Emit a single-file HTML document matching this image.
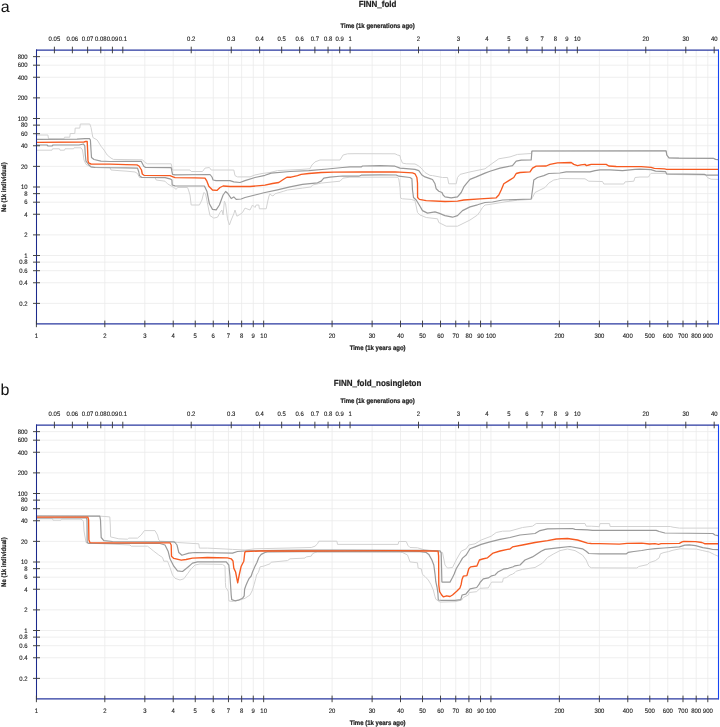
<!DOCTYPE html>
<html><head><meta charset="utf-8"><style>
html,body{margin:0;padding:0;background:#fff;}
svg{display:block;will-change:transform;}
text{text-rendering:geometricPrecision;font-family:"Liberation Sans",sans-serif;fill:#222;}
.lab text{font-size:6.4px;fill:#1a1a1a;stroke:#1a1a1a;stroke-width:0.12px;}
.ttl{font-size:8.0px;font-weight:bold;stroke:#222;stroke-width:0.2px;}
.ax{font-size:6.0px;font-weight:bold;stroke:#222;stroke-width:0.2px;}
.pl{font-size:16px;fill:#111;}
</style></head><body>
<svg width="720" height="727" viewBox="0 0 720 727">
<text class="pl" x="0.7" y="11.7">a</text>
<text class="pl" x="0.5" y="394.7">b</text>
<g transform="translate(0,0)">
<path d="M104.82 50V324 M144.84 50V324 M173.23 50V324 M195.25 50V324 M213.25 50V324 M228.47 50V324 M241.65 50V324 M253.27 50V324 M263.67 50V324 M332.09 50V324 M372.11 50V324 M400.50 50V324 M422.52 50V324 M440.52 50V324 M455.74 50V324 M468.92 50V324 M480.54 50V324 M490.94 50V324 M559.36 50V324 M599.38 50V324 M627.77 50V324 M649.79 50V324 M667.79 50V324 M683.01 50V324 M696.19 50V324 M707.81 50V324 M37 56.64H718 M37 65.20H718 M37 77.26H718 M37 97.88H718 M37 118.50H718 M37 125.14H718 M37 133.70H718 M37 145.76H718 M37 166.38H718 M37 187.00H718 M37 193.64H718 M37 202.20H718 M37 214.26H718 M37 234.88H718 M37 255.50H718 M37 262.14H718 M37 270.70H718 M37 282.76H718 M37 303.38H718" stroke="#ebebeb" stroke-width="0.8" fill="none"/>
<path d="M37.0 135.0 47.9 135.0 48.5 138.8 64.0 138.8 64.5 137.2 69.8 137.2 70.2 133.5 74.8 133.5 75.2 128.1 79.8 128.1 80.3 124.0 89.8 124.0 91.0 127.5 92.9 137.5 97.2 140.0 101.0 146.2 104.0 150.0 107.2 155.0 111.0 158.1 113.5 159.4 126.0 159.6 142.5 159.8 145.0 162.5 147.5 163.8 171.2 163.8 172.5 170.0 190.0 170.0 191.2 171.5 202.5 171.5 205.0 168.1 209.4 167.5 211.2 170.0 233.8 170.0 235.0 175.6 237.5 176.9 250.0 176.9 255.0 175.0 262.0 173.5 270.0 172.5 277.5 170.6 300.0 169.5 310.0 168.8 311.9 165.0 315.0 161.9 320.0 160.0 340.0 160.0 343.1 155.0 347.5 153.8 355.0 153.7 395.0 153.8 397.5 155.0 400.0 155.6 400.6 158.8 402.5 163.1 406.2 163.8 415.0 164.0 418.1 165.6 421.2 168.1 423.8 171.2 425.0 172.5 430.0 175.4 432.5 175.6 442.5 177.5 447.5 177.5 448.8 183.8 456.2 183.8 457.5 177.5 460.0 174.4 470.0 171.9 485.0 168.8 490.0 165.0 498.8 158.8 510.0 156.9 517.5 154.4 531.2 153.5 531.9 151.0 666.1 150.9 666.8 155.0 668.9 157.8 678.9 158.1 713.3 158.3 715.6 159.4 718.0 159.6" stroke="#d2d2d2" stroke-width="1.0" fill="none" stroke-linejoin="round"/>
<path d="M37.0 150.2 52.0 150.2 52.5 148.8 59.5 148.8 60.0 150.2 64.5 150.2 65.0 148.8 73.5 148.8 74.0 147.8 81.0 147.8 82.5 150.0 84.0 160.0 86.0 164.4 91.0 167.0 100.0 167.5 110.0 167.6 111.0 170.0 121.0 170.8 126.0 171.1 135.0 172.0 137.5 173.5 139.5 177.5 155.0 177.5 156.2 180.0 165.0 181.2 167.5 183.8 173.8 187.5 176.2 189.4 177.5 187.5 187.5 187.5 188.5 190.0 190.0 195.0 191.2 205.0 199.4 205.0 201.9 200.0 203.8 192.5 205.6 193.8 208.8 210.0 210.0 215.6 213.8 218.1 217.5 217.2 220.0 212.5 221.9 210.0 223.1 215.0 224.4 201.2 225.6 203.8 227.5 218.8 229.4 225.0 231.2 220.0 233.8 213.8 235.0 210.0 236.9 216.2 240.0 214.4 242.5 212.5 245.0 208.1 250.0 210.0 252.5 205.0 255.0 207.5 256.2 205.0 258.8 205.0 259.4 208.8 266.2 208.8 268.0 200.0 269.0 196.0 270.0 193.8 271.0 195.0 273.0 196.0 275.0 193.8 283.8 191.2 287.5 190.0 302.5 188.1 311.2 186.9 312.5 185.0 321.2 183.1 330.0 182.2 340.0 181.2 343.1 178.1 350.0 177.2 397.5 177.2 398.8 178.8 400.0 187.5 400.6 198.1 402.5 198.8 411.2 199.4 415.0 200.6 417.5 212.5 420.0 215.0 426.2 217.5 437.5 218.8 438.8 222.5 446.2 226.2 457.5 226.2 465.0 222.5 470.0 220.0 477.5 215.0 480.0 211.5 482.5 207.5 485.0 205.0 490.0 204.4 505.0 201.9 517.5 200.2 531.2 199.4 532.5 197.5 535.0 192.5 540.0 190.0 545.0 187.5 548.8 183.1 553.8 180.0 557.5 179.4 560.0 178.5 585.0 178.8 588.8 181.2 602.5 181.5 603.8 184.0 623.8 184.0 625.0 181.9 633.8 181.2 635.0 177.5 640.0 177.0 648.5 177.0 650.0 174.4 651.1 173.3 665.6 173.3 666.7 174.4 705.6 175.0 707.8 177.8 711.1 179.2 718.0 179.4" stroke="#d2d2d2" stroke-width="1.0" fill="none" stroke-linejoin="round"/>
<path d="M37.0 139.4 77.0 139.2 85.0 138.6 89.5 138.6 90.4 140.0 91.0 150.0 91.5 157.5 94.0 159.5 101.0 161.2 110.0 161.5 126.0 161.4 141.2 161.3 143.8 166.2 145.6 167.5 171.2 167.7 172.5 174.4 175.0 174.8 210.0 174.5 212.0 177.0 213.1 180.0 216.0 180.6 230.0 180.6 233.8 181.9 240.0 182.5 245.0 180.6 255.0 177.5 265.0 175.3 271.2 173.1 290.0 171.5 308.8 170.6 327.5 169.0 342.5 167.5 350.0 166.9 361.2 166.9 362.5 166.0 380.0 165.6 395.0 166.2 400.0 168.1 406.2 168.6 415.0 169.4 418.8 170.6 421.9 175.0 425.0 176.9 430.0 178.6 432.5 179.5 435.0 183.8 436.2 188.8 438.8 191.2 442.0 192.5 443.1 195.0 445.0 196.9 451.2 197.8 457.5 196.9 461.2 192.5 463.8 186.9 466.2 183.8 470.0 179.4 476.2 176.9 485.0 173.1 490.0 171.2 500.0 168.1 512.5 165.6 516.2 161.2 521.2 160.2 531.2 160.0 531.9 151.2 533.0 151.0 666.1 150.9 666.8 155.0 668.9 157.8 678.9 158.1 713.3 158.3 715.6 159.4 718.0 159.6" stroke="#9a9a9a" stroke-width="1.2" fill="none" stroke-linejoin="round"/>
<path d="M37.0 145.0 47.0 145.0 48.0 146.0 52.0 146.0 53.0 145.0 79.0 145.0 83.5 144.0 84.8 146.0 85.3 155.0 86.0 161.2 89.0 165.0 91.0 166.9 95.0 167.5 126.0 167.8 137.5 168.1 138.8 172.0 139.5 175.6 141.9 177.5 165.0 177.7 170.0 178.8 171.9 180.0 172.2 185.0 175.0 185.9 204.4 186.0 206.9 191.2 209.4 203.8 212.5 209.4 216.2 209.8 219.4 205.0 223.1 195.0 225.6 191.5 228.1 193.8 231.2 198.5 233.8 196.9 236.2 199.4 241.2 199.0 245.0 197.5 255.0 195.0 265.0 192.5 277.5 189.8 290.0 186.9 302.5 184.4 317.5 182.8 321.2 181.1 323.8 178.1 330.0 177.2 342.5 176.0 350.0 176.2 358.8 176.2 361.2 175.2 380.0 174.8 396.2 175.0 398.8 176.2 410.0 177.5 411.9 178.8 412.5 190.0 413.5 197.5 416.2 200.0 420.0 206.2 422.5 210.6 427.5 213.1 435.0 211.9 438.8 213.1 445.0 215.6 452.5 217.2 457.5 215.6 462.5 210.6 470.0 206.9 477.5 204.8 485.0 202.5 492.5 202.0 502.5 200.0 531.2 199.0 532.5 190.0 533.8 180.0 537.5 177.5 543.8 175.6 548.8 173.5 560.0 173.0 566.2 171.9 590.0 171.9 595.0 170.6 600.0 169.8 610.0 169.9 622.5 170.6 635.0 169.4 640.0 169.2 651.0 169.6 655.6 171.1 665.6 171.7 666.7 173.9 704.4 174.4 706.7 175.2 718.0 175.2" stroke="#9a9a9a" stroke-width="1.2" fill="none" stroke-linejoin="round"/>
<path d="M37.0 142.3 84.0 142.0 86.0 141.3 87.2 141.5 87.6 150.0 88.0 161.0 89.0 163.2 91.0 164.0 110.0 164.2 126.0 164.7 136.9 164.8 139.0 166.0 141.5 170.0 142.3 174.0 144.0 175.3 170.0 175.6 173.0 176.8 175.0 177.7 195.0 177.8 205.0 178.1 206.9 181.2 208.8 186.2 212.5 190.0 216.9 190.4 220.0 187.5 223.1 186.0 230.0 186.5 250.0 186.5 260.0 185.6 265.0 185.2 272.5 183.5 278.8 182.5 282.5 180.0 286.9 177.2 291.0 177.2 297.5 175.6 301.2 174.4 308.8 173.5 321.2 172.5 333.8 172.2 362.0 172.0 395.0 171.9 412.5 172.8 415.0 173.8 416.9 177.5 417.5 183.0 417.6 197.5 419.4 199.4 426.2 200.6 445.0 201.5 457.5 201.2 463.8 200.0 480.0 198.8 496.2 197.8 498.8 195.0 501.2 190.0 503.8 183.8 508.8 180.6 513.8 177.5 516.2 173.5 520.0 172.5 530.0 171.9 532.5 168.1 536.2 166.2 546.2 166.0 550.0 164.4 557.5 162.8 571.2 162.5 573.8 164.4 577.5 165.6 581.0 164.8 585.0 164.4 586.5 165.6 588.8 165.0 591.2 164.4 606.2 164.4 608.8 166.0 616.2 166.5 641.2 166.6 651.1 167.4 654.4 168.3 664.4 168.9 666.7 169.4 718.0 169.4" stroke="#f65a20" stroke-width="1.35" fill="none" stroke-linejoin="round"/>
<path d="M36 50H718.6M36 323.9H718.6" stroke="#2a38a0" stroke-width="1.25" fill="none"/>
<path d="M36.5 49.5V324.4" stroke="#1c2a8c" stroke-width="1.05" fill="none"/>
<path d="M718.5 49.5V324.4" stroke="#1745f2" stroke-width="1.1" fill="none"/>
<path d="M33 56.64H40 M33 65.20H40 M33 77.26H40 M33 97.88H40 M33 118.50H40 M33 125.14H40 M33 133.70H40 M33 145.76H40 M33 166.38H40 M33 187.00H40 M33 193.64H40 M33 202.20H40 M33 214.26H40 M33 234.88H40 M33 255.50H40 M33 262.14H40 M33 270.70H40 M33 282.76H40 M33 303.38H40 M36.40 320.6V327.2 M104.82 320.6V327.2 M144.84 320.6V327.2 M173.23 320.6V327.2 M195.25 320.6V327.2 M213.25 320.6V327.2 M228.47 320.6V327.2 M241.65 320.6V327.2 M253.27 320.6V327.2 M263.67 320.6V327.2 M332.09 320.6V327.2 M372.11 320.6V327.2 M400.50 320.6V327.2 M422.52 320.6V327.2 M440.52 320.6V327.2 M455.74 320.6V327.2 M468.92 320.6V327.2 M480.54 320.6V327.2 M490.94 320.6V327.2 M559.36 320.6V327.2 M599.38 320.6V327.2 M627.77 320.6V327.2 M649.79 320.6V327.2 M667.79 320.6V327.2 M683.01 320.6V327.2 M696.19 320.6V327.2 M707.81 320.6V327.2 M54.40 46.7V53.3 M72.39 46.7V53.3 M87.61 46.7V53.3 M100.79 46.7V53.3 M112.41 46.7V53.3 M122.81 46.7V53.3 M191.23 46.7V53.3 M231.25 46.7V53.3 M259.64 46.7V53.3 M281.67 46.7V53.3 M299.66 46.7V53.3 M314.88 46.7V53.3 M328.06 46.7V53.3 M339.68 46.7V53.3 M350.08 46.7V53.3 M418.50 46.7V53.3 M458.52 46.7V53.3 M486.91 46.7V53.3 M508.94 46.7V53.3 M526.93 46.7V53.3 M542.15 46.7V53.3 M555.33 46.7V53.3 M566.95 46.7V53.3 M577.35 46.7V53.3 M645.77 46.7V53.3 M685.79 46.7V53.3 M714.18 46.7V53.3" stroke="#3c3c3c" stroke-width="0.95" fill="none"/>
<g class="lab"><text transform="translate(27.6,58.89) scale(0.93,1)" text-anchor="end">800</text><text transform="translate(27.6,67.45) scale(0.93,1)" text-anchor="end">600</text><text transform="translate(27.6,79.51) scale(0.93,1)" text-anchor="end">400</text><text transform="translate(27.6,100.13) scale(0.93,1)" text-anchor="end">200</text><text transform="translate(27.6,120.75) scale(0.93,1)" text-anchor="end">100</text><text transform="translate(27.6,127.39) scale(0.93,1)" text-anchor="end">80</text><text transform="translate(27.6,135.95) scale(0.93,1)" text-anchor="end">60</text><text transform="translate(27.6,148.01) scale(0.93,1)" text-anchor="end">40</text><text transform="translate(27.6,168.63) scale(0.93,1)" text-anchor="end">20</text><text transform="translate(27.6,189.25) scale(0.93,1)" text-anchor="end">10</text><text transform="translate(27.6,195.89) scale(0.93,1)" text-anchor="end">8</text><text transform="translate(27.6,204.45) scale(0.93,1)" text-anchor="end">6</text><text transform="translate(27.6,216.51) scale(0.93,1)" text-anchor="end">4</text><text transform="translate(27.6,237.13) scale(0.93,1)" text-anchor="end">2</text><text transform="translate(27.6,257.75) scale(0.93,1)" text-anchor="end">1</text><text transform="translate(27.6,264.39) scale(0.93,1)" text-anchor="end">0.8</text><text transform="translate(27.6,272.95) scale(0.93,1)" text-anchor="end">0.6</text><text transform="translate(27.6,285.01) scale(0.93,1)" text-anchor="end">0.4</text><text transform="translate(27.6,305.63) scale(0.93,1)" text-anchor="end">0.2</text><text transform="translate(36.40,337.6) scale(0.93,1)" text-anchor="middle">1</text><text transform="translate(104.82,337.6) scale(0.93,1)" text-anchor="middle">2</text><text transform="translate(144.84,337.6) scale(0.93,1)" text-anchor="middle">3</text><text transform="translate(173.23,337.6) scale(0.93,1)" text-anchor="middle">4</text><text transform="translate(195.25,337.6) scale(0.93,1)" text-anchor="middle">5</text><text transform="translate(213.25,337.6) scale(0.93,1)" text-anchor="middle">6</text><text transform="translate(228.47,337.6) scale(0.93,1)" text-anchor="middle">7</text><text transform="translate(241.65,337.6) scale(0.93,1)" text-anchor="middle">8</text><text transform="translate(253.27,337.6) scale(0.93,1)" text-anchor="middle">9</text><text transform="translate(263.67,337.6) scale(0.93,1)" text-anchor="middle">10</text><text transform="translate(332.09,337.6) scale(0.93,1)" text-anchor="middle">20</text><text transform="translate(372.11,337.6) scale(0.93,1)" text-anchor="middle">30</text><text transform="translate(400.50,337.6) scale(0.93,1)" text-anchor="middle">40</text><text transform="translate(422.52,337.6) scale(0.93,1)" text-anchor="middle">50</text><text transform="translate(440.52,337.6) scale(0.93,1)" text-anchor="middle">60</text><text transform="translate(455.74,337.6) scale(0.93,1)" text-anchor="middle">70</text><text transform="translate(468.92,337.6) scale(0.93,1)" text-anchor="middle">80</text><text transform="translate(480.54,337.6) scale(0.93,1)" text-anchor="middle">90</text><text transform="translate(490.94,337.6) scale(0.93,1)" text-anchor="middle">100</text><text transform="translate(559.36,337.6) scale(0.93,1)" text-anchor="middle">200</text><text transform="translate(599.38,337.6) scale(0.93,1)" text-anchor="middle">300</text><text transform="translate(627.77,337.6) scale(0.93,1)" text-anchor="middle">400</text><text transform="translate(649.79,337.6) scale(0.93,1)" text-anchor="middle">500</text><text transform="translate(667.79,337.6) scale(0.93,1)" text-anchor="middle">600</text><text transform="translate(683.01,337.6) scale(0.93,1)" text-anchor="middle">700</text><text transform="translate(696.19,337.6) scale(0.93,1)" text-anchor="middle">800</text><text transform="translate(707.81,337.6) scale(0.93,1)" text-anchor="middle">900</text><text transform="translate(54.40,40.9) scale(0.93,1)" text-anchor="middle">0.05</text><text transform="translate(72.39,40.9) scale(0.93,1)" text-anchor="middle">0.06</text><text transform="translate(87.61,40.9) scale(0.93,1)" text-anchor="middle">0.07</text><text transform="translate(100.79,40.9) scale(0.93,1)" text-anchor="middle">0.08</text><text transform="translate(112.41,40.9) scale(0.93,1)" text-anchor="middle">0.09</text><text transform="translate(122.81,40.9) scale(0.93,1)" text-anchor="middle">0.1</text><text transform="translate(191.23,40.9) scale(0.93,1)" text-anchor="middle">0.2</text><text transform="translate(231.25,40.9) scale(0.93,1)" text-anchor="middle">0.3</text><text transform="translate(259.64,40.9) scale(0.93,1)" text-anchor="middle">0.4</text><text transform="translate(281.67,40.9) scale(0.93,1)" text-anchor="middle">0.5</text><text transform="translate(299.66,40.9) scale(0.93,1)" text-anchor="middle">0.6</text><text transform="translate(314.88,40.9) scale(0.93,1)" text-anchor="middle">0.7</text><text transform="translate(328.06,40.9) scale(0.93,1)" text-anchor="middle">0.8</text><text transform="translate(339.68,40.9) scale(0.93,1)" text-anchor="middle">0.9</text><text transform="translate(350.08,40.9) scale(0.93,1)" text-anchor="middle">1</text><text transform="translate(418.50,40.9) scale(0.93,1)" text-anchor="middle">2</text><text transform="translate(458.52,40.9) scale(0.93,1)" text-anchor="middle">3</text><text transform="translate(486.91,40.9) scale(0.93,1)" text-anchor="middle">4</text><text transform="translate(508.94,40.9) scale(0.93,1)" text-anchor="middle">5</text><text transform="translate(526.93,40.9) scale(0.93,1)" text-anchor="middle">6</text><text transform="translate(542.15,40.9) scale(0.93,1)" text-anchor="middle">7</text><text transform="translate(555.33,40.9) scale(0.93,1)" text-anchor="middle">8</text><text transform="translate(566.95,40.9) scale(0.93,1)" text-anchor="middle">9</text><text transform="translate(577.35,40.9) scale(0.93,1)" text-anchor="middle">10</text><text transform="translate(645.77,40.9) scale(0.93,1)" text-anchor="middle">20</text><text transform="translate(685.79,40.9) scale(0.93,1)" text-anchor="middle">30</text><text transform="translate(714.18,40.9) scale(0.93,1)" text-anchor="middle">40</text></g>
<text class="ttl" transform="translate(377.6,6.50) scale(1,1.1)" text-anchor="middle">FINN_fold</text>
<text class="ax" transform="translate(377.6,27.6) scale(1,1.12)" text-anchor="middle">Time (1k generations ago)</text>
<text class="ax" transform="translate(377.6,349.7) scale(1,1.12)" text-anchor="middle">Time (1k years ago)</text>
<text class="ax" transform="translate(6.2,187.1) rotate(-90) scale(1,1.12)" text-anchor="middle">Ne (1k individual)</text>
</g>
<g transform="translate(0,375)">
<path d="M104.82 50V324 M144.84 50V324 M173.23 50V324 M195.25 50V324 M213.25 50V324 M228.47 50V324 M241.65 50V324 M253.27 50V324 M263.67 50V324 M332.09 50V324 M372.11 50V324 M400.50 50V324 M422.52 50V324 M440.52 50V324 M455.74 50V324 M468.92 50V324 M480.54 50V324 M490.94 50V324 M559.36 50V324 M599.38 50V324 M627.77 50V324 M649.79 50V324 M667.79 50V324 M683.01 50V324 M696.19 50V324 M707.81 50V324 M37 56.64H718 M37 65.20H718 M37 77.26H718 M37 97.88H718 M37 118.50H718 M37 125.14H718 M37 133.70H718 M37 145.76H718 M37 166.38H718 M37 187.00H718 M37 193.64H718 M37 202.20H718 M37 214.26H718 M37 234.88H718 M37 255.50H718 M37 262.14H718 M37 270.70H718 M37 282.76H718 M37 303.38H718" stroke="#ebebeb" stroke-width="0.8" fill="none"/>
<path d="M37.0 140.8 101.0 141.2 109.8 141.9 110.3 150.0 110.6 161.9 118.8 163.8 127.5 164.2 128.8 163.1 137.5 163.1 141.2 160.0 144.4 155.6 155.0 155.6 157.5 160.0 158.8 165.0 160.0 166.2 173.8 166.9 177.5 167.5 198.8 168.8 199.4 173.1 207.5 173.1 232.5 174.4 245.0 175.0 255.0 173.8 311.2 172.5 315.0 171.2 317.5 168.8 318.8 166.2 336.9 166.2 337.5 169.4 398.1 169.4 398.8 166.5 406.2 166.5 408.1 170.6 410.0 172.5 417.5 172.8 425.0 175.0 430.0 175.6 442.5 177.5 445.0 190.0 447.5 193.1 452.5 192.5 456.2 185.0 461.2 176.2 466.2 173.8 468.8 170.0 475.0 168.8 481.2 165.0 491.2 161.2 496.2 157.5 502.5 156.2 510.0 156.0 522.5 152.5 532.5 151.2 536.2 148.5 585.0 148.5 586.2 151.2 591.2 151.2 599.4 151.7 599.9 148.6 609.6 148.6 610.1 151.5 670.3 151.5 673.0 152.2 679.4 153.1 718.0 153.1" stroke="#d2d2d2" stroke-width="1.0" fill="none" stroke-linejoin="round"/>
<path d="M37.0 143.8 52.5 143.8 53.0 145.2 61.0 145.2 61.5 144.2 81.0 144.2 82.5 145.0 83.5 146.7 84.0 156.0 86.0 167.5 87.7 168.3 100.0 168.6 130.0 170.0 131.2 171.2 147.5 171.2 150.0 173.1 153.8 176.2 158.8 180.0 162.5 182.5 163.8 186.2 167.5 186.2 170.0 192.5 172.5 200.0 175.0 203.3 180.0 205.0 183.8 203.8 187.5 198.8 191.2 193.8 195.0 190.0 200.0 189.0 222.5 189.4 225.0 191.2 225.4 207.5 225.8 212.5 227.0 214.0 228.3 216.7 228.8 225.8 231.7 226.5 240.0 225.0 245.0 223.3 250.0 220.0 252.5 215.0 254.2 209.2 255.8 203.3 256.5 200.0 258.3 197.5 259.2 195.0 260.0 191.9 264.0 191.0 270.0 188.8 271.2 187.2 287.5 185.6 290.0 183.8 305.0 183.1 306.2 181.9 311.2 181.2 312.5 178.8 315.0 177.5 317.5 176.9 340.0 176.9 400.0 177.0 402.5 177.5 407.5 180.0 410.0 186.9 417.5 187.8 418.1 193.1 421.2 193.8 422.5 199.4 425.0 201.5 428.3 205.0 430.8 209.2 433.3 215.0 435.0 221.7 435.8 224.2 440.0 227.1 455.0 226.7 461.7 225.0 463.3 222.5 468.3 220.0 469.2 217.5 476.7 216.7 480.0 213.3 488.3 212.9 490.8 208.3 491.7 207.1 502.5 207.1 503.3 203.3 506.7 202.5 510.0 200.0 512.5 199.2 515.0 197.5 516.2 196.2 522.5 194.4 535.0 192.5 542.5 188.1 547.5 182.5 553.8 178.8 560.0 175.6 567.5 174.0 575.0 175.6 582.5 180.0 586.2 185.0 588.8 191.2 591.2 192.8 600.0 192.9 636.8 193.0 638.8 191.5 647.5 189.6 649.4 187.6 655.3 185.7 659.2 182.8 660.4 178.8 664.0 177.5 668.5 176.6 673.0 175.2 680.3 173.8 696.5 174.1 702.8 175.6 709.2 177.0 714.6 179.7 718.0 181.1" stroke="#d2d2d2" stroke-width="1.0" fill="none" stroke-linejoin="round"/>
<path d="M37.0 141.0 99.8 141.2 100.5 145.0 101.2 162.5 103.8 165.6 112.5 166.5 173.8 166.9 175.0 167.5 177.0 170.0 178.8 177.5 181.9 180.2 188.8 178.1 195.0 177.5 232.5 178.1 237.5 176.5 245.0 176.0 260.0 175.6 300.0 175.2 345.0 175.2 425.0 175.4 440.0 175.8 441.2 178.0 441.9 206.9 442.5 207.1 450.0 207.1 452.5 202.5 454.2 199.0 456.2 193.8 460.0 187.5 462.5 183.1 466.2 180.0 470.0 173.8 475.0 171.9 481.2 169.4 490.0 166.9 500.0 164.4 510.0 162.5 520.0 160.0 535.0 158.5 540.0 155.6 547.5 153.8 572.5 153.5 575.0 154.4 587.5 154.8 592.5 155.4 656.2 155.4 659.2 156.5 664.9 158.0 712.8 158.5 715.0 160.0 718.0 160.6" stroke="#9a9a9a" stroke-width="1.2" fill="none" stroke-linejoin="round"/>
<path d="M37.0 143.0 86.5 143.0 87.0 145.0 87.2 167.5 89.0 168.5 160.0 168.5 165.0 170.0 168.1 176.2 170.0 183.8 173.8 191.2 177.5 195.8 182.5 196.5 187.5 192.5 192.5 188.1 197.5 186.9 226.2 186.9 228.8 190.0 230.0 201.2 230.4 207.5 231.2 220.0 231.7 224.6 235.0 225.8 238.3 225.2 242.5 223.3 244.2 220.8 244.6 214.2 245.8 210.8 247.5 206.7 249.2 203.3 251.2 201.0 252.5 197.0 255.0 191.2 256.9 187.5 258.8 182.5 261.2 179.4 265.0 177.5 267.5 176.9 300.0 176.6 420.0 176.6 426.2 177.5 428.8 179.4 431.9 185.0 433.8 190.0 435.0 198.8 435.8 206.7 437.1 212.5 437.9 218.3 438.3 225.0 441.7 225.4 455.0 225.4 460.8 224.6 462.1 220.0 465.8 219.2 469.2 215.0 470.0 213.8 476.7 212.5 479.2 209.2 480.0 207.5 483.3 203.8 488.3 202.9 491.7 200.8 495.0 200.0 498.3 196.7 503.3 194.2 508.3 193.3 513.3 191.7 515.0 190.8 520.0 190.0 525.0 185.0 532.5 181.9 541.2 176.2 545.0 174.4 557.5 172.8 570.0 171.5 582.5 173.8 586.2 176.2 588.8 178.5 600.0 178.8 626.1 178.9 628.1 177.4 633.9 176.5 641.7 175.5 647.5 174.5 655.3 173.6 664.0 173.0 679.4 171.8 684.8 170.2 689.3 169.8 695.6 170.7 702.8 172.7 709.2 173.6 712.8 174.5 718.0 174.6" stroke="#9a9a9a" stroke-width="1.2" fill="none" stroke-linejoin="round"/>
<path d="M37.0 142.1 87.9 142.1 88.6 145.0 88.9 165.0 89.9 167.6 100.0 167.8 170.0 167.8 171.2 170.0 171.5 181.2 173.8 183.4 181.2 185.2 186.0 184.5 192.5 183.1 207.5 182.5 227.5 182.9 231.2 183.8 233.0 186.0 233.8 193.1 235.6 197.0 236.9 203.8 237.7 207.9 239.2 200.0 241.2 191.2 243.8 186.2 244.8 177.5 245.6 176.5 260.0 176.0 300.0 176.0 345.0 175.8 395.0 175.6 425.0 176.0 438.1 176.2 438.6 181.0 438.8 210.0 439.6 216.7 441.7 220.0 443.3 221.8 446.7 220.8 450.0 221.5 452.5 220.0 456.7 216.2 460.0 212.9 461.2 209.2 462.1 204.2 463.3 201.2 466.9 200.6 468.8 193.8 470.6 191.9 476.9 191.0 479.4 185.0 482.5 184.0 487.5 182.8 493.1 178.1 500.0 176.0 507.5 174.4 510.0 174.0 512.5 171.9 522.5 170.0 535.0 167.5 547.5 165.6 556.2 164.0 567.5 163.5 577.5 165.0 587.5 168.1 591.2 168.5 600.0 168.6 619.3 169.2 627.1 168.4 641.7 168.2 649.4 169.0 655.0 168.7 658.6 169.3 661.0 168.7 679.4 168.4 682.1 166.9 683.9 166.4 695.6 166.6 701.9 167.5 704.6 168.7 718.0 168.7" stroke="#f65a20" stroke-width="1.35" fill="none" stroke-linejoin="round"/>
<path d="M36 50H718.6M36 323.9H718.6" stroke="#2a38a0" stroke-width="1.25" fill="none"/>
<path d="M36.5 49.5V324.4" stroke="#1c2a8c" stroke-width="1.05" fill="none"/>
<path d="M718.5 49.5V324.4" stroke="#1745f2" stroke-width="1.1" fill="none"/>
<path d="M33 56.64H40 M33 65.20H40 M33 77.26H40 M33 97.88H40 M33 118.50H40 M33 125.14H40 M33 133.70H40 M33 145.76H40 M33 166.38H40 M33 187.00H40 M33 193.64H40 M33 202.20H40 M33 214.26H40 M33 234.88H40 M33 255.50H40 M33 262.14H40 M33 270.70H40 M33 282.76H40 M33 303.38H40 M36.40 320.6V327.2 M104.82 320.6V327.2 M144.84 320.6V327.2 M173.23 320.6V327.2 M195.25 320.6V327.2 M213.25 320.6V327.2 M228.47 320.6V327.2 M241.65 320.6V327.2 M253.27 320.6V327.2 M263.67 320.6V327.2 M332.09 320.6V327.2 M372.11 320.6V327.2 M400.50 320.6V327.2 M422.52 320.6V327.2 M440.52 320.6V327.2 M455.74 320.6V327.2 M468.92 320.6V327.2 M480.54 320.6V327.2 M490.94 320.6V327.2 M559.36 320.6V327.2 M599.38 320.6V327.2 M627.77 320.6V327.2 M649.79 320.6V327.2 M667.79 320.6V327.2 M683.01 320.6V327.2 M696.19 320.6V327.2 M707.81 320.6V327.2 M54.40 46.7V53.3 M72.39 46.7V53.3 M87.61 46.7V53.3 M100.79 46.7V53.3 M112.41 46.7V53.3 M122.81 46.7V53.3 M191.23 46.7V53.3 M231.25 46.7V53.3 M259.64 46.7V53.3 M281.67 46.7V53.3 M299.66 46.7V53.3 M314.88 46.7V53.3 M328.06 46.7V53.3 M339.68 46.7V53.3 M350.08 46.7V53.3 M418.50 46.7V53.3 M458.52 46.7V53.3 M486.91 46.7V53.3 M508.94 46.7V53.3 M526.93 46.7V53.3 M542.15 46.7V53.3 M555.33 46.7V53.3 M566.95 46.7V53.3 M577.35 46.7V53.3 M645.77 46.7V53.3 M685.79 46.7V53.3 M714.18 46.7V53.3" stroke="#3c3c3c" stroke-width="0.95" fill="none"/>
<g class="lab"><text transform="translate(27.6,58.89) scale(0.93,1)" text-anchor="end">800</text><text transform="translate(27.6,67.45) scale(0.93,1)" text-anchor="end">600</text><text transform="translate(27.6,79.51) scale(0.93,1)" text-anchor="end">400</text><text transform="translate(27.6,100.13) scale(0.93,1)" text-anchor="end">200</text><text transform="translate(27.6,120.75) scale(0.93,1)" text-anchor="end">100</text><text transform="translate(27.6,127.39) scale(0.93,1)" text-anchor="end">80</text><text transform="translate(27.6,135.95) scale(0.93,1)" text-anchor="end">60</text><text transform="translate(27.6,148.01) scale(0.93,1)" text-anchor="end">40</text><text transform="translate(27.6,168.63) scale(0.93,1)" text-anchor="end">20</text><text transform="translate(27.6,189.25) scale(0.93,1)" text-anchor="end">10</text><text transform="translate(27.6,195.89) scale(0.93,1)" text-anchor="end">8</text><text transform="translate(27.6,204.45) scale(0.93,1)" text-anchor="end">6</text><text transform="translate(27.6,216.51) scale(0.93,1)" text-anchor="end">4</text><text transform="translate(27.6,237.13) scale(0.93,1)" text-anchor="end">2</text><text transform="translate(27.6,257.75) scale(0.93,1)" text-anchor="end">1</text><text transform="translate(27.6,264.39) scale(0.93,1)" text-anchor="end">0.8</text><text transform="translate(27.6,272.95) scale(0.93,1)" text-anchor="end">0.6</text><text transform="translate(27.6,285.01) scale(0.93,1)" text-anchor="end">0.4</text><text transform="translate(27.6,305.63) scale(0.93,1)" text-anchor="end">0.2</text><text transform="translate(36.40,337.6) scale(0.93,1)" text-anchor="middle">1</text><text transform="translate(104.82,337.6) scale(0.93,1)" text-anchor="middle">2</text><text transform="translate(144.84,337.6) scale(0.93,1)" text-anchor="middle">3</text><text transform="translate(173.23,337.6) scale(0.93,1)" text-anchor="middle">4</text><text transform="translate(195.25,337.6) scale(0.93,1)" text-anchor="middle">5</text><text transform="translate(213.25,337.6) scale(0.93,1)" text-anchor="middle">6</text><text transform="translate(228.47,337.6) scale(0.93,1)" text-anchor="middle">7</text><text transform="translate(241.65,337.6) scale(0.93,1)" text-anchor="middle">8</text><text transform="translate(253.27,337.6) scale(0.93,1)" text-anchor="middle">9</text><text transform="translate(263.67,337.6) scale(0.93,1)" text-anchor="middle">10</text><text transform="translate(332.09,337.6) scale(0.93,1)" text-anchor="middle">20</text><text transform="translate(372.11,337.6) scale(0.93,1)" text-anchor="middle">30</text><text transform="translate(400.50,337.6) scale(0.93,1)" text-anchor="middle">40</text><text transform="translate(422.52,337.6) scale(0.93,1)" text-anchor="middle">50</text><text transform="translate(440.52,337.6) scale(0.93,1)" text-anchor="middle">60</text><text transform="translate(455.74,337.6) scale(0.93,1)" text-anchor="middle">70</text><text transform="translate(468.92,337.6) scale(0.93,1)" text-anchor="middle">80</text><text transform="translate(480.54,337.6) scale(0.93,1)" text-anchor="middle">90</text><text transform="translate(490.94,337.6) scale(0.93,1)" text-anchor="middle">100</text><text transform="translate(559.36,337.6) scale(0.93,1)" text-anchor="middle">200</text><text transform="translate(599.38,337.6) scale(0.93,1)" text-anchor="middle">300</text><text transform="translate(627.77,337.6) scale(0.93,1)" text-anchor="middle">400</text><text transform="translate(649.79,337.6) scale(0.93,1)" text-anchor="middle">500</text><text transform="translate(667.79,337.6) scale(0.93,1)" text-anchor="middle">600</text><text transform="translate(683.01,337.6) scale(0.93,1)" text-anchor="middle">700</text><text transform="translate(696.19,337.6) scale(0.93,1)" text-anchor="middle">800</text><text transform="translate(707.81,337.6) scale(0.93,1)" text-anchor="middle">900</text><text transform="translate(54.40,40.9) scale(0.93,1)" text-anchor="middle">0.05</text><text transform="translate(72.39,40.9) scale(0.93,1)" text-anchor="middle">0.06</text><text transform="translate(87.61,40.9) scale(0.93,1)" text-anchor="middle">0.07</text><text transform="translate(100.79,40.9) scale(0.93,1)" text-anchor="middle">0.08</text><text transform="translate(112.41,40.9) scale(0.93,1)" text-anchor="middle">0.09</text><text transform="translate(122.81,40.9) scale(0.93,1)" text-anchor="middle">0.1</text><text transform="translate(191.23,40.9) scale(0.93,1)" text-anchor="middle">0.2</text><text transform="translate(231.25,40.9) scale(0.93,1)" text-anchor="middle">0.3</text><text transform="translate(259.64,40.9) scale(0.93,1)" text-anchor="middle">0.4</text><text transform="translate(281.67,40.9) scale(0.93,1)" text-anchor="middle">0.5</text><text transform="translate(299.66,40.9) scale(0.93,1)" text-anchor="middle">0.6</text><text transform="translate(314.88,40.9) scale(0.93,1)" text-anchor="middle">0.7</text><text transform="translate(328.06,40.9) scale(0.93,1)" text-anchor="middle">0.8</text><text transform="translate(339.68,40.9) scale(0.93,1)" text-anchor="middle">0.9</text><text transform="translate(350.08,40.9) scale(0.93,1)" text-anchor="middle">1</text><text transform="translate(418.50,40.9) scale(0.93,1)" text-anchor="middle">2</text><text transform="translate(458.52,40.9) scale(0.93,1)" text-anchor="middle">3</text><text transform="translate(486.91,40.9) scale(0.93,1)" text-anchor="middle">4</text><text transform="translate(508.94,40.9) scale(0.93,1)" text-anchor="middle">5</text><text transform="translate(526.93,40.9) scale(0.93,1)" text-anchor="middle">6</text><text transform="translate(542.15,40.9) scale(0.93,1)" text-anchor="middle">7</text><text transform="translate(555.33,40.9) scale(0.93,1)" text-anchor="middle">8</text><text transform="translate(566.95,40.9) scale(0.93,1)" text-anchor="middle">9</text><text transform="translate(577.35,40.9) scale(0.93,1)" text-anchor="middle">10</text><text transform="translate(645.77,40.9) scale(0.93,1)" text-anchor="middle">20</text><text transform="translate(685.79,40.9) scale(0.93,1)" text-anchor="middle">30</text><text transform="translate(714.18,40.9) scale(0.93,1)" text-anchor="middle">40</text></g>
<text class="ttl" transform="translate(377.6,11.40) scale(1,1.1)" text-anchor="middle">FINN_fold_nosingleton</text>
<text class="ax" transform="translate(377.6,27.6) scale(1,1.12)" text-anchor="middle">Time (1k generations ago)</text>
<text class="ax" transform="translate(377.6,349.7) scale(1,1.12)" text-anchor="middle">Time (1k years ago)</text>
<text class="ax" transform="translate(6.2,187.1) rotate(-90) scale(1,1.12)" text-anchor="middle">Ne (1k individual)</text>
</g>
</svg>
</body></html>
